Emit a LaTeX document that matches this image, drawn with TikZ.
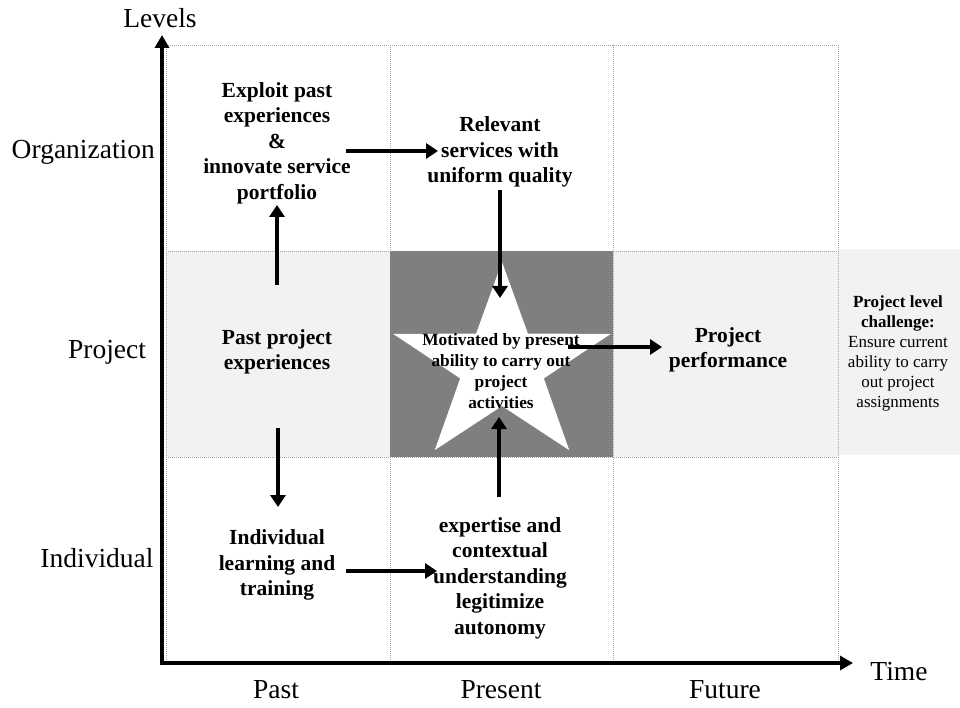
\documentclass[tikz,border=0pt]{standalone}
\usepackage{fontspec}
\setmainfont{Liberation Serif}
\usetikzlibrary{arrows.meta}
\definecolor{lightcell}{HTML}{F2F2F2}
\definecolor{darkcell}{HTML}{7F7F7F}
\definecolor{gridline}{HTML}{A6A6A6}
\tikzset{
  axislabel/.style={inner sep=0pt, font=\fontsize{27.5}{31}\selectfont},
  boldtext/.style={inner sep=0pt, align=center, font=\bfseries\fontsize{21.5}{25.5}\selectfont},
  startext/.style={inner sep=0pt, align=center, font=\bfseries\fontsize{17.3}{21}\selectfont},
  sidetext/.style={inner sep=0pt, align=center, font=\fontsize{17}{20}\selectfont},
  gridrule/.style={draw=gridline, line width=0.8pt, dash pattern=on 1pt off 1pt},
  axisline/.style={line width=4pt, -{Triangle[length=13pt,width=14pt]}},
  flow/.style={line width=4pt, -{Triangle[length=12pt,width=15pt]}},
}
\begin{document}
\begin{tikzpicture}[x=1pt,y=-1pt]
\useasboundingbox (0,0) rectangle (960,708);

% shaded cells of the project row
\fill[lightcell] (166,251) rectangle (390,457);
\fill[lightcell] (613,251) rectangle (838,457);
\fill[lightcell] (838,249) rectangle (960,455);

% dotted grid
\foreach \gx in {166,390,613,838} \draw[gridrule] (\gx,45) -- (\gx,662);
\foreach \gy in {45,251,457} \draw[gridrule] (166,\gy) -- (838,\gy);

% present / project cell with star
\fill[darkcell] (390,251) rectangle (613,457);
\fill[white] (502,262) -- (527.9,333.6) -- (610.8,333.9) -- (543.8,378.4)
  -- (569.2,450.1) -- (502,406) -- (434.8,450.1) -- (460.2,378.4)
  -- (393.2,333.9) -- (476.1,333.6) -- cycle;

% axes
\coordinate (ytip) at (162,35);
\coordinate (xtip) at (853,663);
\coordinate (ybase) at (162,665);
\coordinate (xbase) at (160,663);
\draw[axisline] (ybase) -- (ytip);
\draw[axisline] (xbase) -- (xtip);

% axis labels
\node[axislabel] (levels) at (160,18) {Levels};
\node[axislabel] (time) at (899,672) {Time};
\node[axislabel, anchor=east] (org) at (155,152) {Organization};
\node[axislabel] (proj) at (107,352) {Project};
\node[axislabel] (indiv) at (97,558) {Individual};
\node[axislabel] (past) at (276,690) {Past};
\node[axislabel] (present) at (501,690) {Present};
\node[axislabel] (future) at (725,690) {Future};

% cell texts
\node[boldtext] (exploit) at (277,143) {Exploit past\\experiences\\\&\\innovate service\\portfolio};
\node[boldtext] (rel) at (500,152) {Relevant\\services with\\uniform quality};
\node[boldtext] (pastexp) at (277,352) {Past project\\experiences};
\node[startext] (star) at (501,371) {Motivated by present\\ability to carry out\\project\\activities};
\node[boldtext] (perf) at (728,350) {Project\\performance};
\node[sidetext] (challenge) at (898,353) {\textbf{Project level}\\\textbf{challenge:}\\Ensure current\\ability to carry\\out project\\assignments};
\node[boldtext] (ind) at (277,565) {Individual\\learning and\\training};
\node[boldtext] (exp) at (500,578) {expertise and\\contextual\\understanding\\legitimize\\autonomy};

% flows between cells
\draw[flow, shorten <=67pt, shorten >=62pt] (pastexp.center) -- (exploit.center);
\draw[flow, shorten <=69pt, shorten >=62pt] ([yshift=-8pt]exploit.center) -- ([yshift=1pt]rel.center);
\draw[flow, shorten <=38pt, shorten >=73pt] (rel.center) -- ([xshift=-1pt]star.center);
\draw[flow, shorten <=67pt, shorten >=66pt] ([yshift=24pt]star.center) -- ([yshift=3pt]perf.center);
\draw[flow, shorten <=76pt, shorten >=58pt] ([xshift=1pt]pastexp.center) -- ([xshift=1pt]ind.center);
\draw[flow, shorten <=69pt, shorten >=63pt] ([yshift=-6pt]ind.center) -- ([yshift=7pt]exp.center);
\draw[flow, shorten <=81pt, shorten >=46pt] ([xshift=-1pt]exp.center) -- ([xshift=-2pt]star.center);
\end{tikzpicture}
\end{document}
